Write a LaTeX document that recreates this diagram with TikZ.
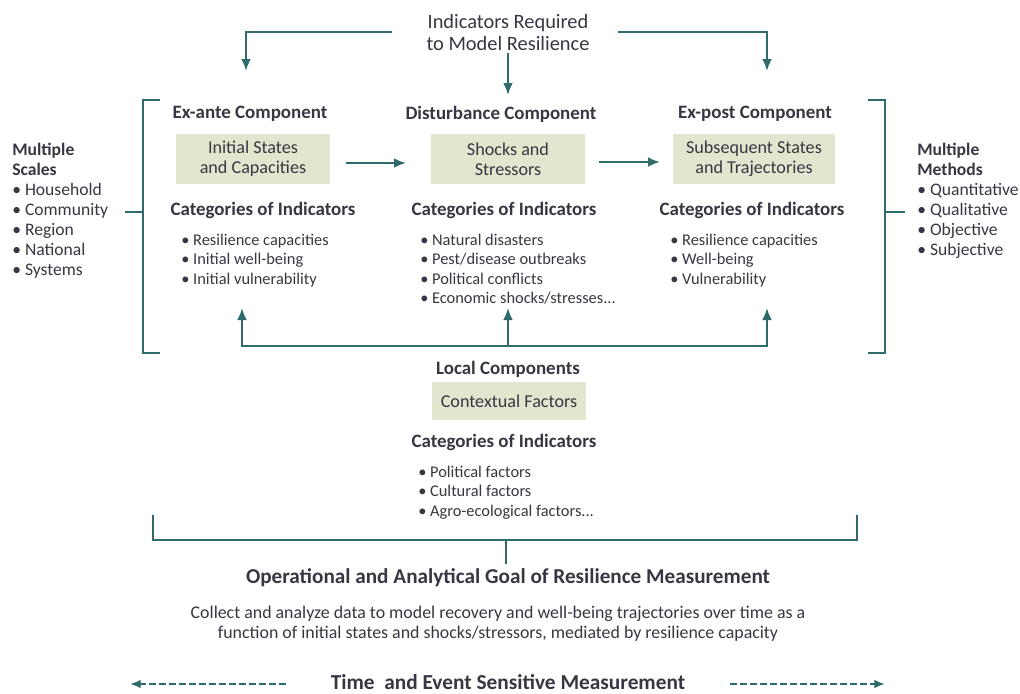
\documentclass[tikz,border=0pt]{standalone}
\usepackage{fontspec}
\setmainfont{Carlito}
\usetikzlibrary{arrows.meta}

\definecolor{linkcol}{HTML}{2F6B6B}
\definecolor{boxcol}{HTML}{E2E6CE}
\definecolor{txtcol}{HTML}{3A3542}

\tikzset{
  head/.style={font=\bfseries\fontsize{14.2}{16}\selectfont, text=txtcol},
  factorbox/.style={fill=boxcol, minimum width=116pt, minimum height=37pt, align=center,
    inner sep=2pt, font=\fontsize{13.6}{15}\selectfont, text=txtcol},
  items/.style={anchor=north west, inner sep=0pt, align=left,
    font=\fontsize{12.3}{14.4}\selectfont, text=txtcol},
  side/.style={anchor=north west, inner sep=0pt, align=left,
    font=\fontsize{13.2}{15}\selectfont, text=txtcol},
  link/.style={draw=linkcol, line width=2pt},
  tip/.style={-{Latex[length=9pt,width=7.5pt]}},
}

\begin{document}
\begin{tikzpicture}[x=0.75pt, y=-0.75pt]
\useasboundingbox (0,0) rectangle (1020,693);

% title
\node (req) [align=center, font=\fontsize{15.3}{16.5}\selectfont, text=txtcol] at (508,32) {Indicators Required\\to Model Resilience};

% three components
\node (h1) [head] at (250,114) {Ex-ante Component};
\node (h2) [head] at (501,114) {Disturbance Component};
\node (h3) [head] at (755,114) {Ex-post Component};

\node (b1) [factorbox] at (253,159) {Initial States\\and Capacities};
\node (b2) [factorbox] at (508,159) {Shocks and\\Stressors};
\node (b3) [factorbox, minimum width=122pt] at (754,159) {Subsequent States\\and Trajectories};

\node (c1) [head] at (263,210) {Categories of Indicators};
\node (c2) [head] at (504,210) {Categories of Indicators};
\node (c3) [head] at (752,210) {Categories of Indicators};

\node (l1) [items] at (181,234) {\textbullet\ Resilience capacities\\\textbullet\ Initial well-being\\\textbullet\ Initial vulnerability};
\node (l2) [items] at (420,234) {\textbullet\ Natural disasters\\\textbullet\ Pest/disease outbreaks\\\textbullet\ Political conflicts\\\textbullet\ Economic shocks/stresses...};
\node (l3) [items] at (670,234) {\textbullet\ Resilience capacities\\\textbullet\ Well-being\\\textbullet\ Vulnerability};

% side lists
\node (sc) [side] at (12,143) {\textbf{Multiple}\\\textbf{Scales}\\\textbullet\ Household\\\textbullet\ Community\\\textbullet\ Region\\\textbullet\ National\\\textbullet\ Systems};
\node (me) [side] at (917,143) {\textbf{Multiple}\\\textbf{Methods}\\\textbullet\ Quantitative\\\textbullet\ Qualitative\\\textbullet\ Objective\\\textbullet\ Subjective};

% local components
\node (h4) [head] at (508,369) {Local Components};
\node (b4) [factorbox, minimum height=28pt] at (509,401) {Contextual Factors};
\node (c4) [head] at (504,442) {Categories of Indicators};
\node (l4) [items] at (418,466) {\textbullet\ Political factors\\\textbullet\ Cultural factors\\\textbullet\ Agro-ecological factors...};

% goal
\node (goal) [font=\bfseries\fontsize{15.9}{17}\selectfont, text=txtcol] at (508,578) {Operational and Analytical Goal of Resilience Measurement};
\node (desc) [align=center, font=\fontsize{13.4}{15}\selectfont, text=txtcol] at (498,624) {Collect and analyze data to model recovery and well-being trajectories over time as a\\function of initial states and shocks/stressors, mediated by resilience capacity};
\node (time) [font=\bfseries\fontsize{16}{17}\selectfont, text=txtcol] at (508,682) {Time\ \ and Event Sensitive Measurement};

% arrows from title
\coordinate (t1) at (246,71);
\coordinate (t3) at (767,71);
\draw [link, tip] (req.west) ++(-30,0) -| (t1);
\draw [link, tip] (req.east) ++(24,0) -| (t3);
\draw [link, tip] (req.south) ++(0,-2) -- (508,95);

% between boxes
\draw [link, tip] (b1.east) ++(15,4) -- (406,163);
\draw [link, tip] (b2.east) ++(13,3) -- (660,162);

% brackets
\coordinate (lb) at (143,100);
\draw [link] (160,100) -- (lb) -- (143,353) -- (160,353);
\draw [link] (125,212) -- (143,212);
\coordinate (rb) at (885,100);
\draw [link] (868,100) -- (rb) -- (885,353) -- (868,353);
\draw [link] (885,212) -- (905,212);

% feedback from local components
\coordinate (fb) at (508,346);
\coordinate (f1) at (242,308);
\coordinate (f2) at (508,308);
\coordinate (f3) at (767,308);
\draw [link, tip] (fb) -| (f1);
\draw [link, tip] (fb) -| (f3);
\draw [link, tip] (fb) -- (f2);

% bottom bracket
\coordinate (bm) at (506,540);
\draw [link] (153,515) -- (153,540) -- (857,540) -- (857,515);
\draw [link] (bm) -- (bm |- goal.north);

% time arrows
\draw [link, line width=1.5pt, dash pattern=on 5pt off 2.5pt, -{Latex[length=8pt,width=6.5pt]}] (time.west) ++(-40,2) -- (130,684);
\draw [link, line width=1.5pt, dash pattern=on 5pt off 2.5pt, -{Latex[length=8pt,width=6.5pt]}] (time.east) ++(40,2) -- (885,684);

\end{tikzpicture}
\end{document}
